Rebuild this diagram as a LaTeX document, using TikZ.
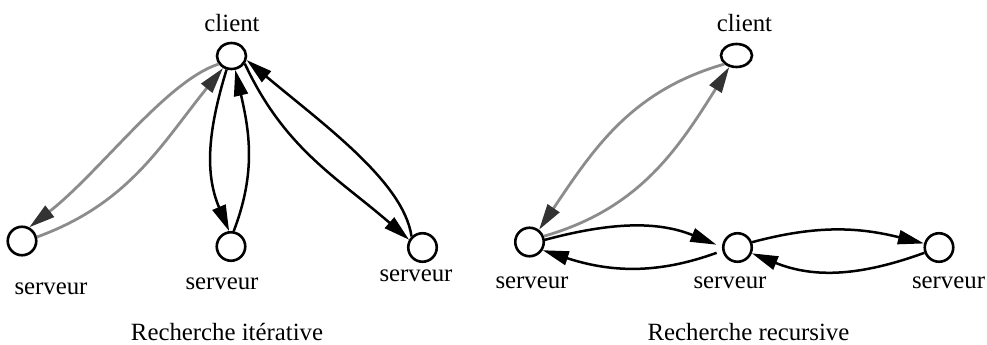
\documentclass[tikz,border=0pt]{standalone}
\usepackage{fontspec}
\setmainfont{Liberation Serif}
\usetikzlibrary{arrows.meta,shapes.geometric}
\begin{document}
\begin{tikzpicture}[x=1pt,y=1pt,
  nd/.style={circle,draw,line width=2.6pt,minimum size=28.5pt,inner sep=0pt},
  ndell/.style={ellipse,draw,line width=2.6pt,inner sep=0pt},
  lab/.style={anchor=base,inner sep=0pt,font=\fontsize{24.8}{30}\selectfont},
  blk/.style={line width=2.5pt,-{Triangle[length=26pt,width=14pt]}},
  gry/.style={line width=2.8pt,draw=black!45,-{Triangle[length=26pt,width=14pt,color=black!80]}},
]
\useasboundingbox (0,0) rectangle (987,345);
% left diagram
\node[ndell,minimum width=29pt,minimum height=26pt] (C1) at (231.5,289) {};
\node[nd] (S1) at (22,104) {};
\node[nd] (S2) at (231,98.5) {};
\node[nd] (S3) at (422.5,97.5) {};
\node[lab] (lc1) at (232,313) {client};
\node[lab] (ls1) at (51,50) {serveur};
\node[lab] (ls2) at (222,55) {serveur};
\node[lab] (ls3) at (416,63) {serveur};
\node[lab] (cap1) at (227,4) {Recherche itérative};
\draw[gry] (C1.212) .. controls +(198:55) and +(38:90) .. (S1.62);
\draw[gry] (S1.15) to[out=20,in=231] (C1.235);
\draw[blk] (C1.250) to[out=253,in=113] (S2.97);
\draw[blk] (S2.80) to[out=69,in=283] (C1.285);
\draw[blk] (C1.330) to[out=295,in=139] (S3.150);
\draw[blk] (S3.135) .. controls +(98:55) and +(320:100) .. (C1.345);
% right diagram
\node[ndell,minimum width=31pt,minimum height=23pt] (C2) at (736.5,289.5) {};
\node[nd] (T1) at (529.5,103) {};
\node[nd] (T2) at (737.5,97.5) {};
\node[nd] (T3) at (939,97.5) {};
\node[lab] (lc2) at (744.5,313) {client};
\node[lab] (lt1) at (532,56) {serveur};
\node[lab] (lt2) at (730,56) {serveur};
\node[lab] (lt3) at (948.5,56) {serveur};
\node[lab] (cap2) at (748.5,4) {Recherche recursive};
\draw[gry] (C2.215) to[out=196,in=56] (T1.52);
\draw[gry] (T1.22) to[out=16,in=238] (C2.238);
\draw[blk,shorten >=6pt] (T1.8) to[out=15,in=158] (T2.178);
\draw[blk,shorten <=6pt] (T2.192) to[out=200,in=342] (T1.328);
\draw[blk] (T2.20) to[out=15,in=166] (T3.165);
\draw[blk] (T3.200) to[out=200,in=338] (T2.338);
\end{tikzpicture}
\end{document}
